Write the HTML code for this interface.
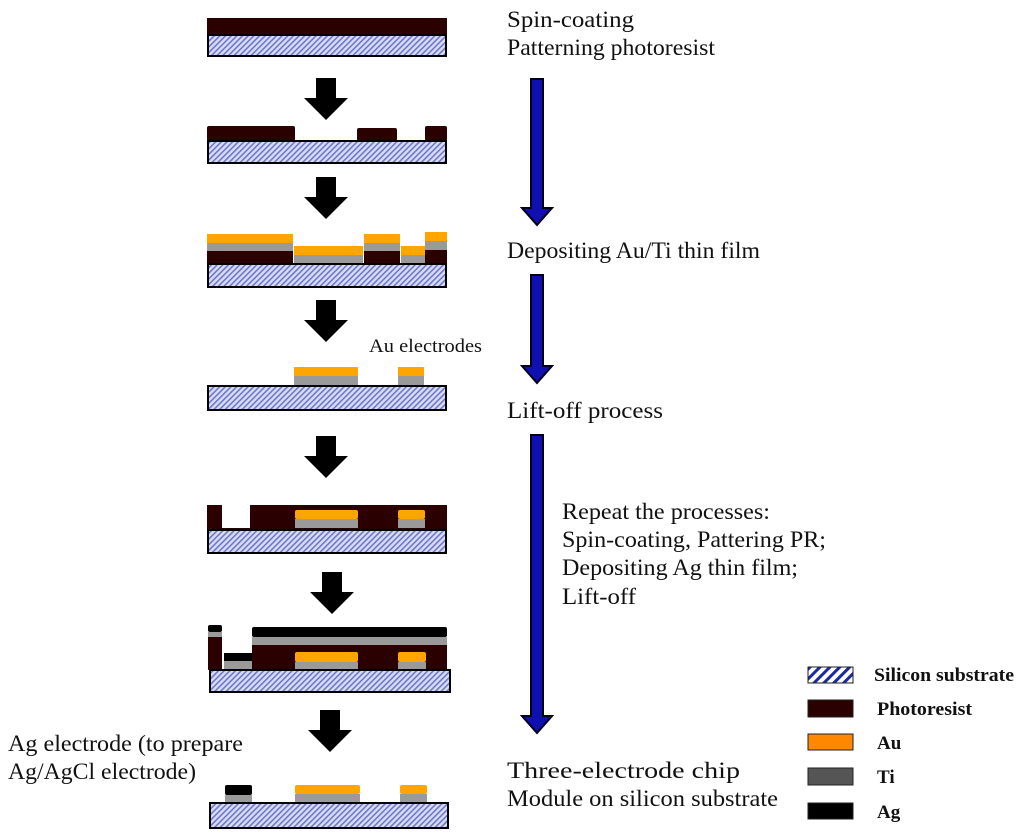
<!DOCTYPE html>
<html><head><meta charset="utf-8"><style>
html,body{margin:0;padding:0;background:#fff;}
svg{display:block;}
text{font-family:"Liberation Serif",serif;fill:#111;}
</style></head><body>
<svg width="1024" height="837" viewBox="0 0 1024 837" xmlns="http://www.w3.org/2000/svg">
<defs>
<pattern id="h" width="4" height="4" patternUnits="userSpaceOnUse" patternTransform="rotate(45)">
<rect width="4" height="4" fill="#d8dcf4"/><rect width="1.6" height="4" fill="#6f78c8"/>
</pattern>
<pattern id="hl" width="7" height="7" patternUnits="userSpaceOnUse" patternTransform="rotate(45)">
<rect width="7" height="7" fill="#fff"/><rect width="3" height="7" fill="#1a2a9c"/>
</pattern>
<g id="ba"><polygon points="-10,0 10,0 10,20 22,20 0,42 -22,20 -10,20" fill="#000"/></g>
</defs>
<style>.pr{fill:#2a0000}.au{fill:#ffa500}.ti{fill:#9a9a9a}.ag{fill:#000}.sub{fill:url(#h);stroke:#000;stroke-width:2}</style>

<rect class="pr" x="207" y="18" width="240" height="17"/>
<rect class="sub" x="208" y="35" width="238" height="21"/>
<use href="#ba" x="326" y="78"/>

<rect class="pr" x="207" y="126" width="88" height="15" rx="2"/>
<rect class="pr" x="357" y="128" width="40" height="13" rx="2"/>
<rect class="pr" x="425" y="126" width="22" height="15" rx="2"/>
<rect class="sub" x="208" y="141" width="238" height="22"/>
<use href="#ba" x="326" y="177"/>

<rect class="au" x="207" y="234" width="86" height="9"/>
<rect class="ti" x="207" y="243" width="86" height="8"/>
<rect class="pr" x="207" y="251" width="86" height="13"/>
<rect class="au" x="294" y="246" width="69" height="9"/>
<rect class="ti" x="294" y="255" width="69" height="9"/>
<rect class="au" x="364" y="234" width="36" height="9"/>
<rect class="ti" x="364" y="243" width="36" height="8"/>
<rect class="pr" x="364" y="251" width="36" height="13"/>
<rect class="au" x="401" y="246" width="24" height="9"/>
<rect class="ti" x="401" y="255" width="24" height="9"/>
<rect class="au" x="425" y="232" width="22" height="9"/>
<rect class="ti" x="425" y="241" width="22" height="9"/>
<rect class="pr" x="425" y="250" width="22" height="14"/>
<rect class="sub" x="208" y="264" width="238" height="23"/>
<use href="#ba" x="326" y="300"/>

<text x="369" y="352" font-size="19" textLength="113" lengthAdjust="spacingAndGlyphs">Au electrodes</text>
<rect class="au" x="294" y="367" width="64" height="9"/>
<rect class="ti" x="294" y="376" width="64" height="10"/>
<rect class="au" x="398" y="367" width="26" height="9"/>
<rect class="ti" x="398" y="376" width="26" height="10"/>
<rect class="sub" x="208" y="386" width="238" height="24"/>
<use href="#ba" x="326" y="436"/>

<rect class="pr" x="207" y="505" width="240" height="25"/>
<rect fill="#fff" x="222" y="505" width="28" height="23"/>
<rect class="au" x="295" y="510" width="63" height="9" rx="2"/>
<rect class="ti" x="295" y="519" width="63" height="9"/>
<rect class="au" x="398" y="510" width="27" height="9" rx="2"/>
<rect class="ti" x="398" y="519" width="27" height="9"/>
<rect class="sub" x="208" y="530" width="238" height="23"/>
<use href="#ba" x="332" y="572"/>

<rect class="ag" x="208" y="625" width="14" height="7" rx="2"/>
<rect class="ti" x="208" y="632" width="14" height="5"/>
<rect class="pr" x="208" y="637" width="14" height="33"/>
<rect class="ag" x="224" y="653" width="28" height="8"/>
<rect class="ti" x="224" y="661" width="28" height="9"/>
<rect class="ag" x="252" y="627" width="195" height="10" rx="2"/>
<rect class="ti" x="252" y="637" width="195" height="8"/>
<rect class="pr" x="252" y="645" width="195" height="25"/>
<rect class="au" x="295" y="652" width="63" height="10" rx="2"/>
<rect class="ti" x="295" y="662" width="63" height="8"/>
<rect class="au" x="398" y="652" width="28" height="10" rx="2"/>
<rect class="ti" x="398" y="662" width="28" height="8"/>
<rect class="sub" x="210" y="670" width="240" height="22"/>
<use href="#ba" x="330" y="710"/>

<rect class="ag" x="225" y="785" width="27" height="10" rx="2"/>
<rect class="ti" x="225" y="795" width="27" height="8"/>
<rect class="au" x="295" y="785" width="65" height="9" rx="2"/>
<rect class="ti" x="295" y="794" width="65" height="9"/>
<rect class="au" x="400" y="785" width="27" height="9" rx="2"/>
<rect class="ti" x="400" y="794" width="27" height="9"/>
<rect class="sub" x="210" y="803" width="238" height="25"/>

<g fill="#1010b0" stroke="#000018" stroke-width="2">
<polygon points="531,79 543,79 543,208 552,208 537,225 522,208 531,208"/>
<polygon points="531,275 543,275 543,366 552,366 537,383 522,366 531,366"/>
<polygon points="531,435 543,435 543,716 552,716 537,733 522,716 531,716"/>
</g>

<g font-size="23" lengthAdjust="spacingAndGlyphs">
<text x="507" y="27" textLength="127" lengthAdjust="spacingAndGlyphs">Spin-coating</text>
<text x="507" y="55" textLength="208" lengthAdjust="spacingAndGlyphs">Patterning photoresist</text>
<text x="507" y="258" textLength="253" lengthAdjust="spacingAndGlyphs">Depositing Au/Ti thin film</text>
<text x="507" y="418" textLength="156" lengthAdjust="spacingAndGlyphs">Lift-off process</text>
<text x="562" y="519" textLength="208" lengthAdjust="spacingAndGlyphs">Repeat the processes:</text>
<text x="562" y="547" textLength="264" lengthAdjust="spacingAndGlyphs">Spin-coating, Pattering PR;</text>
<text x="562" y="575" textLength="236" lengthAdjust="spacingAndGlyphs">Depositing Ag thin film;</text>
<text x="562" y="604" textLength="74" lengthAdjust="spacingAndGlyphs">Lift-off</text>
<text x="507" y="778" textLength="233" lengthAdjust="spacingAndGlyphs">Three-electrode chip</text>
<text x="507" y="806" textLength="271" lengthAdjust="spacingAndGlyphs">Module on silicon substrate</text>
<text x="8" y="751" textLength="235" lengthAdjust="spacingAndGlyphs">Ag electrode (to prepare</text>
<text x="8" y="779" textLength="188" lengthAdjust="spacingAndGlyphs">Ag/AgCl electrode)</text>
</g>

<g stroke="#222" stroke-width="1">
<rect x="808" y="667" width="45" height="16" fill="url(#hl)"/>
<rect x="808" y="700" width="45" height="17" fill="#2a0000"/>
<rect x="808" y="734" width="45" height="16" fill="#ff8800"/>
<rect x="808" y="768" width="45" height="17" fill="#555"/>
<rect x="808" y="803" width="45" height="16" fill="#000"/>
</g>
<g font-size="19" font-weight="bold">
<text x="874" y="681" textLength="140" lengthAdjust="spacingAndGlyphs">Silicon substrate</text>
<text x="877" y="715" textLength="95" lengthAdjust="spacingAndGlyphs">Photoresist</text>
<text x="877" y="749">Au</text>
<text x="877" y="783">Ti</text>
<text x="877" y="818">Ag</text>
</g>
</svg>
</body></html>
